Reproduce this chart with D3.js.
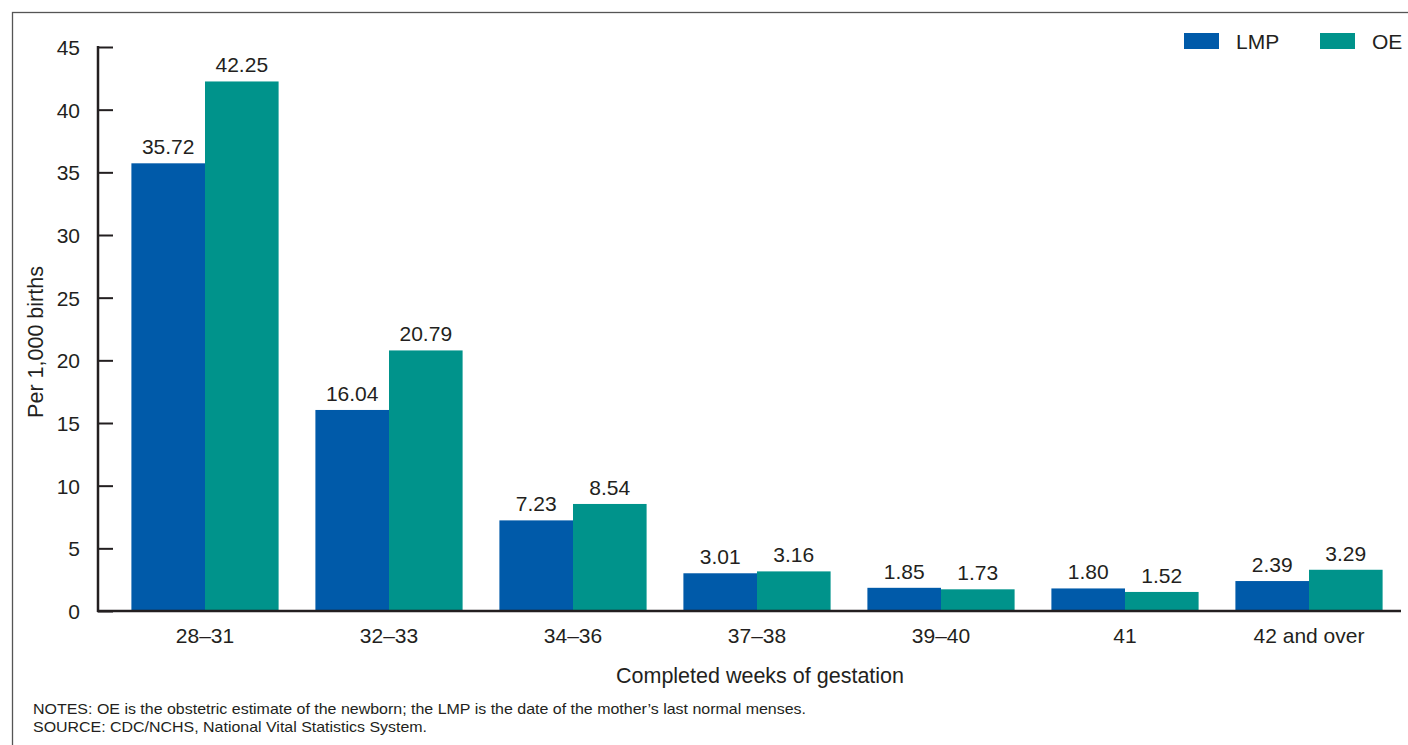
<!DOCTYPE html>
<html>
<head>
<meta charset="utf-8">
<script src="https://cdn.jsdelivr.net/npm/d3@7"></script>
<style>
  body { margin: 0; background: #fff; }
  svg { font-family: "Liberation Sans", Arial, sans-serif; }
</style>
</head>
<body>
<svg id="chart" width="1408" height="745"></svg>
<script>
const categories = ["28–31", "32–33", "34–36", "37–38", "39–40", "41", "42 and over"]
const lmpValues = [35.72, 16.04, 7.23, 3.01, 1.85, 1.80, 2.39]
const oeValues = [42.25, 20.79, 8.54, 3.16, 1.73, 1.52, 3.29]
const seriesNames = ["LMP", "OE"]
const seriesColors = ["#005aa9", "#00938b"]
const yTicks = [0, 5, 10, 15, 20, 25, 30, 35, 40, 45]

const rows = categories.map((c, i) => ({ cat: c, values: [lmpValues[i], oeValues[i]] }))

const svg = d3.select('#chart')
const textColor = '#231f20'
const fontSize = '21px'

// frame
svg.append('rect')
  .attr('x', 12.5).attr('y', 12.5)
  .attr('width', 1420).attr('height', 760)
  .attr('fill', 'none')
  .attr('stroke', '#555')
  .attr('stroke-width', 1.3)

var x0 = d3.scaleBand()
  .domain(categories)
  .range([113, 1401])
  .paddingInner(0.2)
  .paddingOuter(0.1)

var x1 = d3.scaleBand()
  .domain(seriesNames)
  .range([0, x0.bandwidth()])

var y = d3.scaleLinear()
  .domain([0, 45])
  .range([611, 47])

// bars
var groups = svg.append('g')
  .selectAll('g')
  .data(rows)
  .enter().append('g')
  .attr('transform', d => 'translate(' + x0(d.cat) + ',0)')

groups.selectAll('rect')
  .data(d => d.values.map((v, i) => ({ name: seriesNames[i], value: v, color: seriesColors[i] })))
  .enter().append('rect')
  .attr('x', d => x1(d.name))
  .attr('y', d => y(d.value))
  .attr('width', x1.bandwidth())
  .attr('height', d => y(0) - y(d.value))
  .attr('fill', d => d.color)

groups.selectAll('text')
  .data(d => d.values.map((v, i) => ({ name: seriesNames[i], value: v })))
  .enter().append('text')
  .attr('x', d => x1(d.name) + x1.bandwidth() / 2)
  .attr('y', d => y(d.value) - 9)
  .attr('text-anchor', 'middle')
  .style('font-size', fontSize)
  .style('fill', textColor)
  .text(d => d.value.toFixed(2))

// y axis
var yAxis = svg.append('g')
  .attr('transform', 'translate(98,0)')
  .call(d3.axisRight(y).tickValues(yTicks).tickSize(15).tickFormat(d3.format('d')))

yAxis.select('.domain').remove()
yAxis.selectAll('.tick line').attr('stroke', textColor).attr('stroke-width', 2)
yAxis.selectAll('.tick text')
  .attr('x', -18)
  .attr('text-anchor', 'end')
  .attr('dy', '0.36em')
  .style('font-size', fontSize)
  .style('font-family', '"Liberation Sans", Arial, sans-serif')
  .style('fill', textColor)

svg.append('line')
  .attr('x1', 98).attr('x2', 98)
  .attr('y1', 46).attr('y2', 612)
  .attr('stroke', textColor).attr('stroke-width', 2.5)

// x axis
svg.append('line')
  .attr('x1', 97).attr('x2', 1401)
  .attr('y1', 611).attr('y2', 611)
  .attr('stroke', textColor).attr('stroke-width', 2.5)

svg.append('g')
  .selectAll('text')
  .data(categories)
  .enter().append('text')
  .attr('x', d => x0(d) + x0.bandwidth() / 2)
  .attr('y', 643)
  .attr('text-anchor', 'middle')
  .style('font-size', fontSize)
  .style('fill', textColor)
  .text(d => d)

svg.append('text')
  .attr('x', 760)
  .attr('y', 683)
  .attr('text-anchor', 'middle')
  .style('font-size', '21.5px')
  .style('fill', textColor)
  .text('Completed weeks of gestation')

svg.append('text')
  .attr('transform', 'translate(43,342) rotate(-90)')
  .attr('text-anchor', 'middle')
  .style('font-size', '21.5px')
  .style('fill', textColor)
  .text('Per 1,000 births')

// legend
var legend = svg.append('g')
  .selectAll('g')
  .data(seriesNames)
  .enter().append('g')
  .attr('transform', (d, i) => 'translate(' + (1184 + i * 136) + ',33)')

legend.append('rect')
  .attr('width', 35).attr('height', 16)
  .attr('fill', (d, i) => seriesColors[i])

legend.append('text')
  .attr('x', 52).attr('y', 15.5)
  .style('font-size', fontSize)
  .style('fill', textColor)
  .text(d => d)

// notes
svg.append('text')
  .attr('x', 33).attr('y', 714)
  .attr('textLength', 773)
  .attr('lengthAdjust', 'spacingAndGlyphs')
  .style('font-size', '14.5px')
  .style('fill', textColor)
  .text('NOTES: OE is the obstetric estimate of the newborn; the LMP is the date of the mother’s last normal menses.')

svg.append('text')
  .attr('x', 33).attr('y', 732)
  .attr('textLength', 394)
  .attr('lengthAdjust', 'spacingAndGlyphs')
  .style('font-size', '14.5px')
  .style('fill', textColor)
  .text('SOURCE: CDC/NCHS, National Vital Statistics System.')
</script>
</body>
</html>
